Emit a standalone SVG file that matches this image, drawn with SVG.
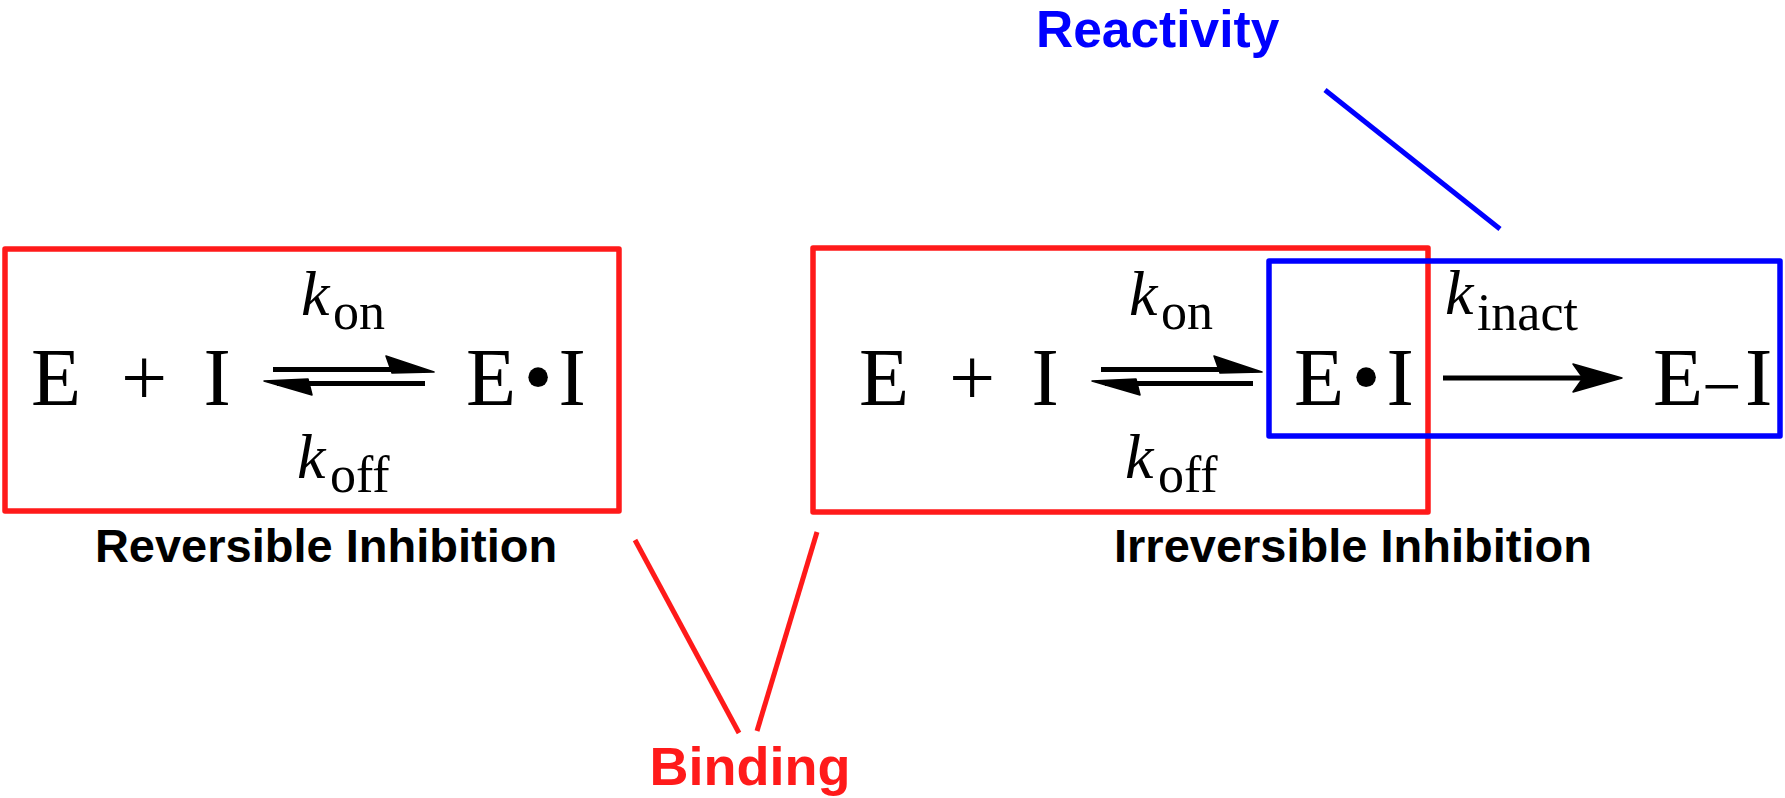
<svg xmlns="http://www.w3.org/2000/svg" width="1785" height="798" viewBox="0 0 1785 798">
<style>
.big{font-family:"Liberation Serif","Times New Roman",serif;font-size:82px;fill:#000}
.k{font-family:"Liberation Serif","Times New Roman",serif;font-style:italic;font-size:64px;fill:#000}
.sub{font-style:normal;font-size:52px}
.lbl{font-family:"Liberation Sans",Arial,sans-serif;font-weight:bold;font-size:47px;fill:#000}
.redbox{fill:none;stroke:#ff1a1a;stroke-width:5.5;stroke-linejoin:round}
.bluebox{fill:none;stroke:#0000ff;stroke-width:5.5;stroke-linejoin:round}
.ln{stroke:#000;stroke-width:5}
.head{fill:#000;stroke:#000;stroke-width:1.5;stroke-linejoin:round}
</style>
<g id="reversible">
<rect class="redbox" x="5" y="249" width="614" height="262"/>
<text class="big" x="31" y="405">E</text>
<text class="big" x="144" y="405" text-anchor="middle">+</text>
<text class="big" x="203.5" y="405">I</text>
<text class="big" x="466" y="405">E</text>
<text class="big" x="538" y="405" text-anchor="middle">•</text>
<text class="big" x="558.5" y="405">I</text>
<text class="k" x="301" y="315">k<tspan class="sub" dx="3.5" dy="14">on</tspan></text>
<text class="k" x="297" y="478">k<tspan class="sub" dx="4.5" dy="14">off</tspan></text>
<text class="lbl" x="326" y="562" text-anchor="middle">Reversible Inhibition</text>
</g>
<g id="irreversible">
<rect class="redbox" x="813" y="248" width="615" height="264"/>
<rect class="bluebox" x="1269" y="261" width="511" height="175"/>
<text class="big" x="859" y="405">E</text>
<text class="big" x="972" y="405" text-anchor="middle">+</text>
<text class="big" x="1031.5" y="405">I</text>
<text class="big" x="1294" y="405">E</text>
<text class="big" x="1366" y="405" text-anchor="middle">•</text>
<text class="big" x="1386.5" y="405">I</text>
<text class="big" x="1653" y="405">E<tspan x="1702" y="409.5" style="font-size:70px">−</tspan><tspan x="1745" y="405">I</tspan></text>
<text class="k" x="1129" y="315">k<tspan class="sub" dx="3.5" dy="14">on</tspan></text>
<text class="k" x="1125" y="478">k<tspan class="sub" dx="4.5" dy="14">off</tspan></text>
<text class="k" x="1445" y="314">k<tspan class="sub" dx="3.5" dy="16">inact</tspan></text>
<text class="lbl" x="1353" y="562" text-anchor="middle">Irreversible Inhibition</text>
</g>
<g id="binding-label">
<text class="lbl" x="750" y="785" text-anchor="middle" style="fill:#ff1a1a;font-size:54px">Binding</text>
</g>
<g id="reactivity-label">
<text class="lbl" x="1036" y="47" style="fill:#0000ff;font-size:51.5px">Reactivity</text>
</g>
<g id="connectors">
<line class="ln" x1="273" y1="369.5" x2="420" y2="369.5"/>
<polygon class="head" points="386,356 434,372 392,373"/>
<line class="ln" x1="277" y1="383.5" x2="425" y2="383.5"/>
<polygon class="head" points="264,381 308,379 312,395"/>
<line class="ln" x1="1101" y1="369.5" x2="1248" y2="369.5"/>
<polygon class="head" points="1214,356 1262,372 1220,373"/>
<line class="ln" x1="1105" y1="383.5" x2="1253" y2="383.5"/>
<polygon class="head" points="1092,381 1136,379 1140,395"/>
<line class="ln" x1="1443" y1="378" x2="1590" y2="378"/>
<polygon class="head" points="1622,378 1573,364 1583,378 1573,392"/>
<line x1="1325" y1="90" x2="1500" y2="229" stroke="#0000ff" stroke-width="5"/>
<line x1="635" y1="540" x2="739" y2="733" stroke="#ff1a1a" stroke-width="5"/>
<line x1="817" y1="532" x2="757" y2="731" stroke="#ff1a1a" stroke-width="5"/>
</g>
</svg>
